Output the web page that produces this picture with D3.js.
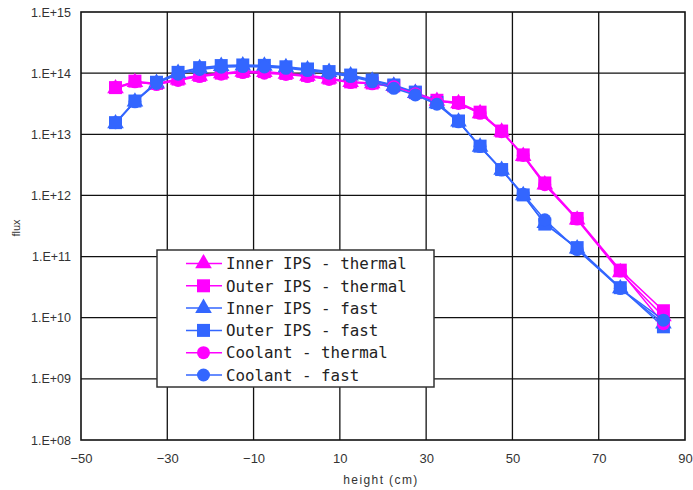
<!DOCTYPE html>
<html>
<head>
<meta charset="utf-8">
<script src="https://cdn.jsdelivr.net/npm/d3@7"></script>
<style>
  body { margin: 0; background: #fff; }
  .axis text { font-family: "Liberation Sans", Arial, sans-serif; fill: #333; }
  .axis path, .axis line { display: none; }
</style>
</head>
<body>
<svg width="693" height="490"></svg>
<script>
// heights (cm) where the flux was tallied
var heights = [-42, -37.5, -32.5, -27.5, -22.5, -17.5, -12.5, -7.5, -2.5, 2.5, 7.5, 12.5,
               17.5, 22.5, 27.5, 32.5, 37.5, 42.5, 47.5, 52.5, 57.5, 65, 75, 85];

// flux values
var innerThermal = [5.6e13, 7.1e13, 6.6e13, 7.8e13, 9.0e13, 9.9e13, 1.05e14, 1.04e14, 9.7e13, 9.0e13, 8.1e13, 7.1e13,
                    6.8e13, 6.1e13, 4.7e13, 3.5e13, 3.2e13, 2.2e13, 1.1e13, 4.4e12, 1.5e12, 4.0e11, 5.5e10, 1.05e10];
var outerThermal = [5.8e13, 7.4e13, 6.8e13, 8.0e13, 9.2e13, 1.0e14, 1.07e14, 1.06e14, 9.9e13, 9.2e13, 8.3e13, 7.2e13,
                    6.9e13, 6.2e13, 4.8e13, 3.6e13, 3.3e13, 2.3e13, 1.13e13, 4.6e12, 1.6e12, 4.2e11, 6.0e10, 1.3e10];
var innerFast = [1.5e13, 3.4e13, 6.9e13, 1.0e14, 1.2e14, 1.3e14, 1.33e14, 1.31e14, 1.24e14, 1.14e14, 1.04e14, 9.1e13,
                 7.5e13, 6.2e13, 4.7e13, 3.2e13, 1.6e13, 6.2e12, 2.6e12, 1.0e12, 3.5e11, 1.35e11, 3.0e10, 8.0e9];
var outerFast = [1.55e13, 3.5e13, 7.1e13, 1.03e14, 1.23e14, 1.33e14, 1.36e14, 1.34e14, 1.27e14, 1.17e14, 1.06e14, 9.3e13,
                 7.7e13, 6.4e13, 4.9e13, 3.3e13, 1.65e13, 6.4e12, 2.65e12, 1.02e12, 3.4e11, 1.4e11, 3.1e10, 7.1e9];
var coolantThermal = [5.8e13, 7.2e13, 6.5e13, 7.6e13, 8.8e13, 9.6e13, 1.02e14, 1.0e14, 9.5e13, 8.8e13, 7.9e13, 7.0e13,
                      6.7e13, 6.0e13, 4.6e13, 3.5e13, 3.2e13, 2.2e13, 1.1e13, 4.5e12, 1.5e12, 4.1e11, 5.8e10, 8.0e9];
var coolantFast = [1.55e13, 3.4e13, 6.8e13, 9.6e13, 1.15e14, 1.25e14, 1.28e14, 1.26e14, 1.2e14, 1.1e14, 1.0e14, 8.8e13,
                   7.2e13, 5.65e13, 4.4e13, 3.1e13, 1.6e13, 6.3e12, 2.6e12, 1.05e12, 4.0e11, 1.3e11, 3.0e10, 9.1e9];

var seriesNames = ["Inner IPS - thermal", "Outer IPS - thermal", "Inner IPS - fast",
                   "Outer IPS - fast", "Coolant - thermal", "Coolant - fast"];

// tick values
var xTicks = [-50, -30, -10, 10, 30, 50, 70, 90];
var yTicks = [1e8, 1e9, 1e10, 1e11, 1e12, 1e13, 1e14, 1e15];

var magenta = "#ff00ff", blue = "#3366ff";

var series = [
  {name: seriesNames[0], values: innerThermal, color: magenta, shape: d3.symbolTriangle, size: 120},
  {name: seriesNames[1], values: outerThermal, color: magenta, shape: d3.symbolSquare, size: 169},
  {name: seriesNames[2], values: innerFast, color: blue, shape: d3.symbolTriangle, size: 120},
  {name: seriesNames[3], values: outerFast, color: blue, shape: d3.symbolSquare, size: 169},
  {name: seriesNames[4], values: coolantThermal, color: magenta, shape: d3.symbolCircle, size: 133},
  {name: seriesNames[5], values: coolantFast, color: blue, shape: d3.symbolCircle, size: 133}
];

var svg = d3.select("svg"),
    margin = {top: 12, right: 8, bottom: 50, left: 81},
    width = svg.attr("width") - margin.left - margin.right,
    height = svg.attr("height") - margin.top - margin.bottom,
    g = svg.append("g").attr("transform", "translate(" + margin.left + "," + margin.top + ")");

var x = d3.scaleLinear().domain([-50, 90]).range([0, width]),
    y = d3.scaleLog().domain([1e8, 1e15]).range([height, 0]);

// grid lines
g.append("g")
  .selectAll("line")
  .data(xTicks.slice(1, -1))
  .enter().append("line")
  .attr("x1", function(d) { return x(d); })
  .attr("x2", function(d) { return x(d); })
  .attr("y1", 0).attr("y2", height)
  .attr("stroke", "#111").attr("stroke-width", 1.3);

g.append("g")
  .selectAll("line")
  .data(yTicks.slice(1, -1))
  .enter().append("line")
  .attr("y1", function(d) { return y(d); })
  .attr("y2", function(d) { return y(d); })
  .attr("x1", 0).attr("x2", width)
  .attr("stroke", "#111").attr("stroke-width", 1.3);

// axes (labels only)
g.append("g")
  .attr("class", "axis")
  .attr("transform", "translate(0," + height + ")")
  .call(d3.axisBottom(x).tickValues(xTicks).tickSize(0).tickPadding(14).tickFormat(d3.format("d")))
  .selectAll("text").style("font-size", "13px");

g.append("g")
  .attr("class", "axis")
  .call(d3.axisLeft(y).tickValues(yTicks).tickSize(0).tickPadding(10)
    .tickFormat(function(d) { return "1.E+" + d3.format("02d")(Math.round(Math.log10(d))); }))
  .selectAll("text").style("font-size", "12.5px");

// axis titles
svg.append("text")
  .attr("x", margin.left + x(20) - 2)
  .attr("y", 484)
  .attr("text-anchor", "middle")
  .style("font", "12px 'Liberation Sans', Arial, sans-serif")
  .style("letter-spacing", "1.4px")
  .attr("fill", "#333")
  .text("height (cm)");

svg.append("text")
  .attr("transform", "translate(20," + (margin.top + height / 2 + 2) + ") rotate(-90)")
  .attr("text-anchor", "middle")
  .style("font", "11px 'Liberation Sans', Arial, sans-serif")
  .attr("fill", "#333")
  .text("flux");

// lines and markers
var line = d3.line()
  .x(function(d, i) { return x(heights[i]); })
  .y(function(d) { return y(d); });

var s = g.selectAll(".series")
  .data(series)
  .enter().append("g")
  .attr("class", "series");

s.append("path")
  .attr("d", function(d) { return line(d.values); })
  .attr("fill", "none")
  .attr("stroke", function(d) { return d.color; })
  .attr("stroke-width", 1.5);

s.each(function(d) {
  d3.select(this).selectAll("path.pt")
    .data(d.values)
    .enter().append("path")
    .attr("class", "pt")
    .attr("transform", function(v, i) { return "translate(" + x(heights[i]) + "," + y(v) + ")"; })
    .attr("d", d3.symbol().type(d.shape).size(d.size))
    .attr("fill", d.color);
});

// plot border
g.append("rect")
  .attr("width", width).attr("height", height)
  .attr("fill", "none").attr("stroke", "#111").attr("stroke-width", 1.6);

// legend
var legend = svg.append("g").attr("transform", "translate(157,250)");
legend.append("rect")
  .attr("width", 277).attr("height", 137)
  .attr("fill", "#fff").attr("stroke", "#333").attr("stroke-width", 1.5);

var item = legend.selectAll(".item")
  .data(series)
  .enter().append("g")
  .attr("class", "item")
  .attr("transform", function(d, i) { return "translate(0," + (13.5 + i * 22.3) + ")"; });

item.append("line")
  .attr("x1", 29).attr("x2", 65)
  .attr("stroke", function(d) { return d.color; })
  .attr("stroke-width", 1.5);

item.append("path")
  .attr("transform", "translate(46.5,0)")
  .attr("d", function(d) { return d3.symbol().type(d.shape).size(d.size)(); })
  .attr("fill", function(d) { return d.color; });

item.append("text")
  .attr("x", 69)
  .attr("dy", "0.36em")
  .style("font", "15.8px 'DejaVu Sans Mono', monospace")
  .attr("fill", "#222")
  .text(function(d) { return d.name; });
</script>
</body>
</html>
